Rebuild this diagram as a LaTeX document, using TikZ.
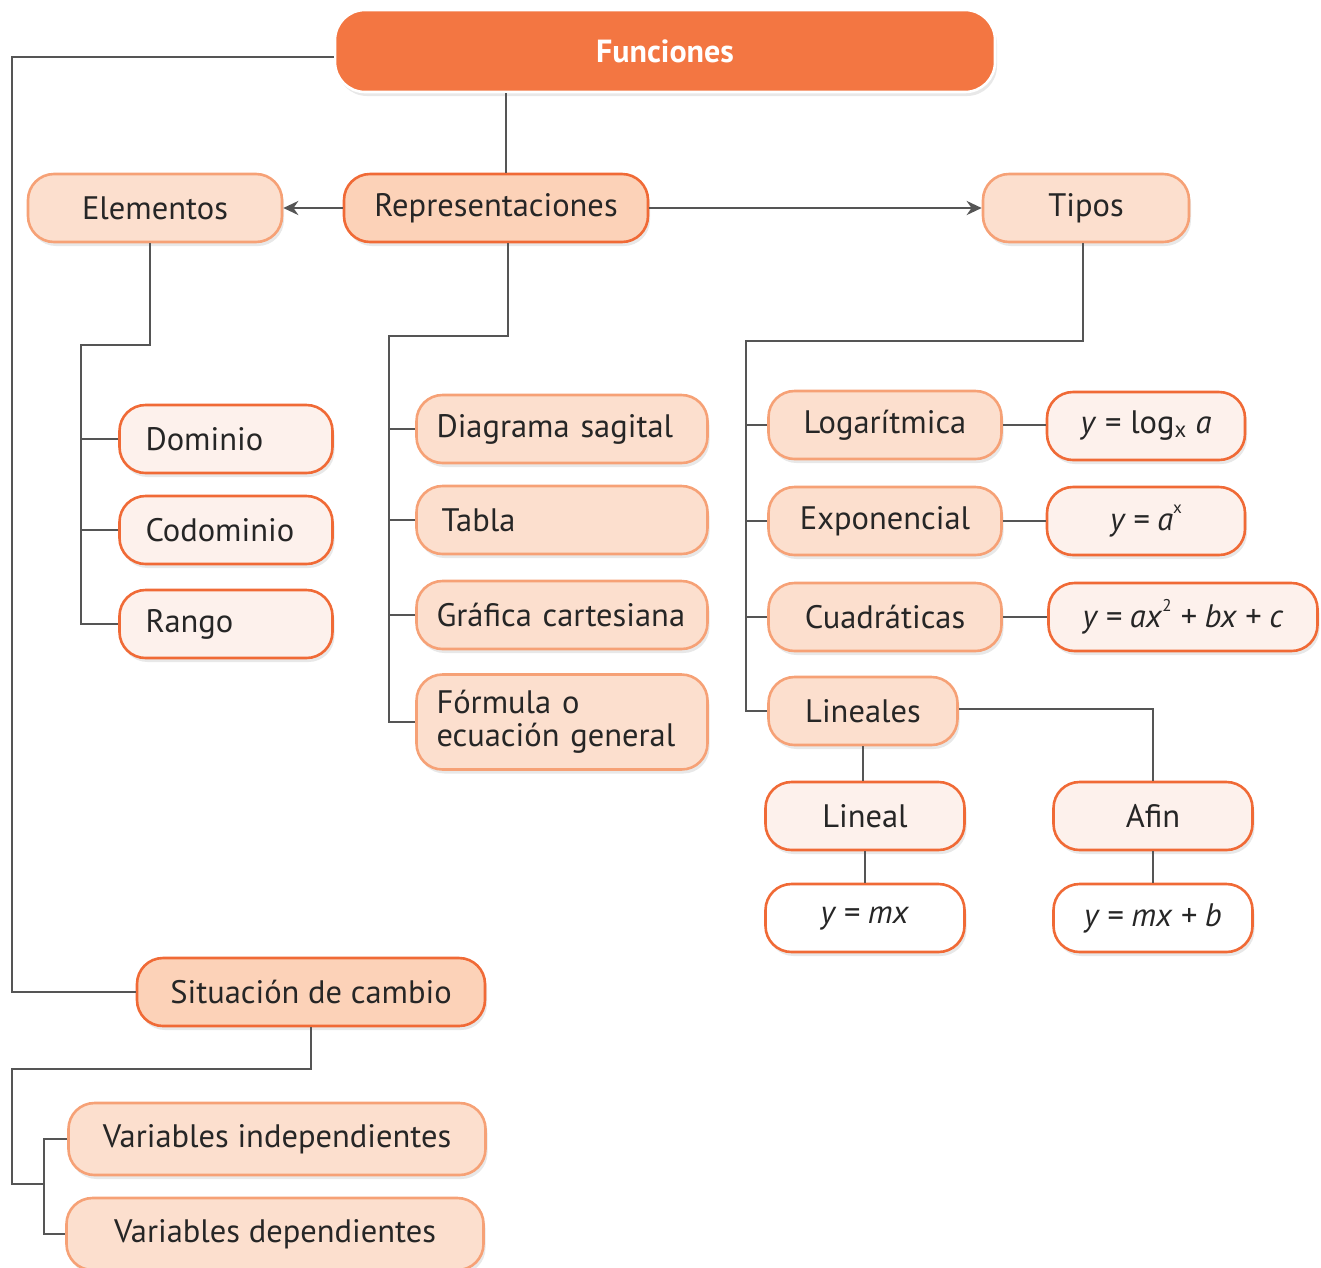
\documentclass[tikz,border=0pt]{standalone}
\usepackage{fontspec}
\setmainfont{PT Sans}
\usetikzlibrary{arrows.meta,shadows}
\definecolor{funfill}{HTML}{F37642}
\definecolor{dkor}{HTML}{F06A36}
\definecolor{ltor}{HTML}{F6A176}
\definecolor{peach}{HTML}{FCD2B8}
\definecolor{ltpeach}{HTML}{FCDFCE}
\definecolor{vlt}{HTML}{FDF1EC}
\definecolor{lgray}{HTML}{555555}
\newcommand{\mysup}[1]{\raisebox{0.5em}{\fontsize{17}{17}\selectfont #1}}
\tikzset{
  box/.style={rounded corners=26pt, line width=2.6pt, minimum height=68pt, inner ysep=0pt,
    font=\fontsize{32.5}{33}\selectfont, text=black!85,
    drop shadow={opacity=0.18, shadow xshift=2pt, shadow yshift=-4pt}},
  topbox/.style={box, fill=funfill, draw=white, text=white, minimum height=82pt,
    rounded corners=30pt, font=\fontsize{32}{34}\selectfont\bfseries},
  midbox/.style={box, fill=peach, draw=dkor},
  lbox/.style={box, fill=ltpeach, draw=ltor},
  vbox/.style={box, fill=vlt, draw=dkor},
  wbox/.style={box, fill=white, draw=dkor},
  conn/.style={draw=lgray, line width=2.7pt},
  arr/.style={conn, -{Stealth[length=15pt,width=14pt]}},
}
\begin{document}
\begin{tikzpicture}[x=1pt,y=-1pt]
\useasboundingbox (0,0) rectangle (1321,1267);
% nodes
\node[topbox, minimum width=660pt] (fun) at (665,51) {Funciones};
\node[lbox, minimum width=254pt] (elem) at (155,208) {Elementos};
\node[midbox, minimum width=304pt] (rep) at (496,208) {Representaciones};
\node[lbox, minimum width=206pt] (tipos) at (1086,208) {Tipos};
% elementos children
\node[vbox, text width=161pt, inner xsep=26pt, align=left] (dom) at (226,439) {Dominio};
\node[vbox, text width=161pt, inner xsep=26pt, align=left] (cod) at (226,530) {Codominio};
\node[vbox, text width=161pt, inner xsep=26pt, align=left] (ran) at (226,624) {Rango};
% representaciones children
\node[lbox, text width=251pt, inner xsep=20pt, align=left] (diag) at (562,429) {Diagrama sagital};
\node[lbox, text width=251pt, inner xsep=20pt, align=left] (tab) at (562,520) {\hspace*{5pt}Tabla};
\node[lbox, text width=251pt, inner xsep=20pt, align=left] (graf) at (562,615) {Gráfica cartesiana};
\node[lbox, text width=251pt, inner xsep=20pt, align=left, minimum height=95pt] (form) at (562,722) {Fórmula o\\ecuación general};
% tipos children
\node[lbox, minimum width=233pt] (loga) at (885,425) {Logarítmica};
\node[vbox, minimum width=198pt] (flog) at (1146,426) {\textit{y} = log\textsubscript{x} \textit{a}};
\node[lbox, minimum width=233pt] (expo) at (885,521) {Exponencial};
\node[vbox, minimum width=198pt] (fexp) at (1146,521) {\textit{y = a}\mysup{x}};
\node[lbox, minimum width=233pt] (cuad) at (885,617) {Cuadráticas};
\node[vbox, minimum width=269pt] (fcuad) at (1183,617) {\textit{y = ax}\mysup{2} \textit{+ bx + c}};
\node[lbox, minimum width=189pt] (lins) at (863,711) {Lineales};
\node[vbox, minimum width=199pt] (lineal) at (865,816) {Lineal};
\node[vbox, minimum width=199pt] (afin) at (1153,816) {Afin};
\node[wbox, minimum width=199pt] (ymx) at (865,918) {\textit{y = mx}};
\node[wbox, minimum width=199pt] (ymxb) at (1153,918) {\textit{y = mx + b}};
% situacion
\node[midbox, minimum width=348pt] (sit) at (311,992) {Situación de cambio};
\node[lbox, minimum width=417pt, minimum height=72pt] (vi) at (277,1139) {Variables independientes};
\node[lbox, minimum width=417pt, minimum height=72pt] (vd) at (275,1234) {Variables dependientes};
% connectors
\draw[conn] ([yshift=-6pt]fun.west) -| (12,500) |- (sit.west);
\draw[conn] (fun.south -| 506,0) -- (rep.north -| 506,0);
\draw[arr] (rep.west) -- (elem.east);
\draw[arr] (rep.east) -- (tipos.west);
\draw[conn] (elem.south -| 150,0) |- (81,345) |- (ran.west);
\draw[conn] (dom.west) -- (dom.west -| 81,0);
\draw[conn] (cod.west) -- (cod.west -| 81,0);
\draw[conn] (rep.south -| 508,0) |- (389,336) |- (form.west);
\draw[conn] (diag.west) -- (diag.west -| 389,0);
\draw[conn] (tab.west) -- (tab.west -| 389,0);
\draw[conn] (graf.west) -- (graf.west -| 389,0);
\draw[conn] (tipos.south -| 1083,0) |- (746,341) |- (lins.west);
\draw[conn] (loga.west) -- (loga.west -| 746,0);
\draw[conn] (expo.west) -- (expo.west -| 746,0);
\draw[conn] (cuad.west) -- (cuad.west -| 746,0);
\draw[conn] (loga.east) -- (flog.west |- loga.east);
\draw[conn] (expo.east) -- (fexp.west |- expo.east);
\draw[conn] (cuad.east) -- (fcuad.west |- cuad.east);
\draw[conn] ([yshift=2pt]lins.east) -| (afin.north);
\draw[conn] (lins.south) -- (lins.south |- lineal.north);
\draw[conn] (lineal.south) -- (ymx.north);
\draw[conn] (afin.south) -- (ymxb.north);
\draw[conn] (sit.south) |- (12,1069) |- (44,1184);
\draw[conn] (vi.west) -| (44,1184) |- (vd.west);
\end{tikzpicture}
\end{document}
